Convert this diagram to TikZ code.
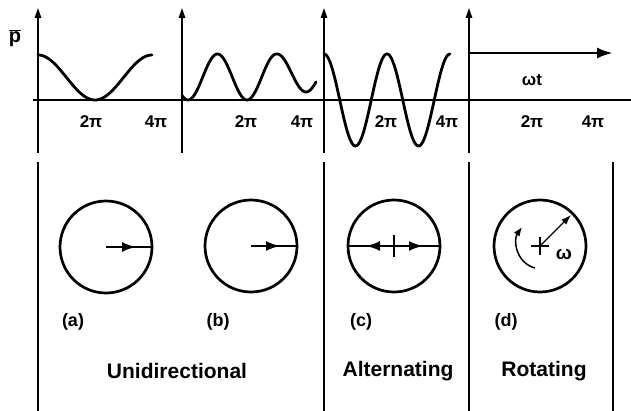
\documentclass[tikz,border=0pt]{standalone}
\usepackage{fontspec}
\setmainfont{Liberation Sans}
\usetikzlibrary{arrows.meta}
\begin{document}
\begin{tikzpicture}[x=1pt,y=-1pt,
  axis/.style={line width=1.4pt},
  curve/.style={line width=2.8pt, line join=round, line cap=round},
  ring/.style={draw, circle, line width=2.7pt, inner sep=0pt, outer sep=0pt, minimum size=92pt},
  lbl/.style={font=\bfseries\fontsize{17}{17}\selectfont, inner sep=0pt},
  big/.style={font=\bfseries\fontsize{21}{21}\selectfont, inner sep=0pt},
  vtip/.style={-{Triangle[length=10pt,width=6.5pt]}},
  mtip/.style={-{Latex[length=14pt,width=10pt]}}]
\useasboundingbox (0,0) rectangle (631,411);

% ---- top axes ----
\foreach \n/\xx in {a/38,b/182,c/324,d/469}{
  \coordinate (\n0) at (\xx,153);
  \coordinate (\n1) at (\xx,8);
  \draw[axis, vtip] (\n0) -- (\n1);
}
\coordinate (h0) at (33,100);
\coordinate (h1) at (631,100);
\draw[axis] (h0) -- (h1);

\node[lbl, font=\bfseries\fontsize{20}{20}\selectfont] (pbar) at (15,38) {$\overline{\hbox{p}}$};

% curves
\draw[curve] plot[domain=38:152, samples=90, smooth] (\x, {100-22.5*(1+cos((\x-38)/57*180))});
\draw[curve] plot[domain=182:277, samples=90, smooth] (\x, {100-23*(1-cos((\x-188)/59*360))})
  -- plot[domain=277:316, samples=40, smooth] (\x, {92-19*(1-cos((\x-306)/58*360))});
\draw[curve] plot[domain=324:450, samples=120, smooth] (\x, {100-46*cos((\x-324)/63*360)});

\coordinate (r0) at (469,53);
\coordinate (r1) at (613,53);
\draw[line width=2.8pt, -{Latex[length=16pt,width=11pt]}] (r0) -- (r1);
\node[lbl] (wt) at (532,80) {ωt};

% tick labels
\node[lbl] (a2) at (91,122) {2π};
\node[lbl] (a4) at (156,122) {4π};
\node[lbl] (b2) at (246,122) {2π};
\node[lbl] (b4) at (302,122) {4π};
\node[lbl] (c2) at (386,122) {2π};
\node[lbl] (c4) at (447,122) {4π};
\node[lbl] (d2) at (532,122) {2π};
\node[lbl] (d4) at (593,122) {4π};

% ---- bottom dividers ----
\foreach \n/\xx in {p/38,q/324,r/469,s/613}{
  \coordinate (\n0) at (\xx,162);
  \coordinate (\n1) at (\xx,411);
  \draw[axis] (\n0) -- (\n1);
}

% circles
\node[ring] (ca) at (106,247) {};
\node[ring] (cb) at (251,246) {};
\node[ring] (cc) at (394,246) {};
\node[ring] (cd) at (540,246) {};

% (a)
\coordinate (ta) at (136,247);
\draw[line width=2.2pt] (ca.center) -- (ca.east);
\draw[line width=2.2pt, mtip] (ca.center) -- (ta);
% (b)
\coordinate (tb) at (280,246);
\draw[line width=2.2pt] (cb.center) -- (cb.east);
\draw[line width=2.2pt, mtip] (cb.center) -- (tb);
% (c)
\coordinate (tcl) at (366,246);
\coordinate (tcr) at (423,246);
\coordinate (vc0) at (394,235);
\coordinate (vc1) at (394,257);
\draw[line width=2.2pt] (cc.west) -- (cc.east);
\draw[line width=2.2pt, mtip] (cc.center) -- (tcl);
\draw[line width=2.2pt, mtip] (cc.center) -- (tcr);
\draw[line width=1.6pt] (vc0) -- (vc1);
% (d)
\coordinate (ph0) at (531,246);
\coordinate (ph1) at (549,246);
\coordinate (pv0) at (540,237);
\coordinate (pv1) at (540,255);
\draw[line width=1.7pt] (ph0) -- (ph1);
\draw[line width=1.7pt] (pv0) -- (pv1);
\coordinate (td) at (571,215);
\draw[line width=1.3pt, -{Latex[length=10pt,width=7pt]}] (cd.center) -- (td);
\coordinate (w0) at (535,268);
\coordinate (w1) at (522,227);
\draw[line width=1.5pt, -{Latex[length=9pt,width=7pt]}] (w0) .. controls (516,263) and (513,240) .. (w1);
\node[lbl, font=\bfseries\fontsize{19}{19}\selectfont] (om) at (564,254) {ω};

% panel labels
\node[lbl, font=\bfseries\fontsize{18}{18}\selectfont] (la) at (73,322) {(a)};
\node[lbl, font=\bfseries\fontsize{18}{18}\selectfont] (lb) at (218,322) {(b)};
\node[lbl, font=\bfseries\fontsize{18}{18}\selectfont] (lc) at (361,322) {(c)};
\node[lbl, font=\bfseries\fontsize{18}{18}\selectfont] (ld) at (506,322) {(d)};

\node[big] (uni) at (177,371) {Unidirectional};
\node[big] (alt) at (398,371) {Alternating};
\node[big] (rot) at (544,371) {Rotating};
\end{tikzpicture}
\end{document}
